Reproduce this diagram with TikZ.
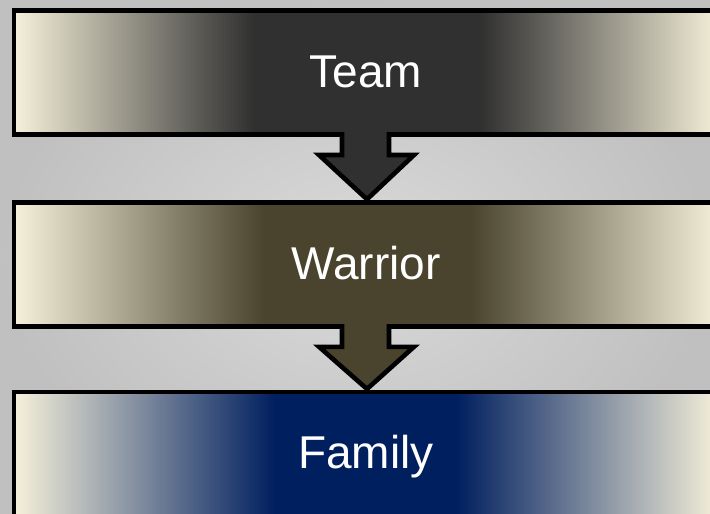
\documentclass[tikz,border=0pt]{standalone}
\usepackage{fontspec}
\setmainfont{Liberation Sans}
\usetikzlibrary{calc}
\definecolor{cream}{RGB}{246,241,218}
\definecolor{dkA}{RGB}{48,48,48}
\definecolor{dkB}{RGB}{74,68,46}
\definecolor{dkC}{RGB}{0,31,95}
\colorlet{mA}{dkA!79!cream}
\colorlet{mB}{dkB!79!cream}
\colorlet{mC}{dkC!79!cream}
\definecolor{bgA}{RGB}{218,218,218}
\definecolor{bgB}{RGB}{192,192,192}
\pgfdeclarehorizontalshading{shadeA}{100bp}{color(0bp)=(cream); color(25bp)=(cream); color(38.2bp)=(mA); color(42bp)=(dkA); color(58bp)=(dkA); color(61.8bp)=(mA); color(75bp)=(cream); color(100bp)=(cream)}
\pgfdeclarehorizontalshading{shadeB}{100bp}{color(0bp)=(cream); color(25bp)=(cream); color(38.9bp)=(mB); color(42.7bp)=(dkB); color(57.3bp)=(dkB); color(61.1bp)=(mB); color(75bp)=(cream); color(100bp)=(cream)}
\pgfdeclarehorizontalshading{shadeC}{100bp}{color(0bp)=(cream); color(25bp)=(cream); color(39.6bp)=(mC); color(43.5bp)=(dkC); color(56.3bp)=(dkC); color(60.2bp)=(mC); color(75bp)=(cream); color(100bp)=(cream)}
\tikzset{
  levelbox/.style={rectangle, draw=black, line width=4.6pt, minimum width=706pt, minimum height=124pt, inner sep=0pt, outer sep=0pt},
  lbl/.style={text=white, font=\fontsize{46}{55}\selectfont, anchor=base, inner sep=0pt},
  arrline/.style={draw=black, line width=4.6pt, line join=miter}
}
\newcommand{\blockdown}[3]{%
  \fill[#3] ($(#1.south)+(-25,-6)$) -- ($(#1.south)+(-25,20.5)$) -- ($(#1.south)+(-48,20.5)$) -- ($(#2.north)+(0,-3)$) -- ($(#1.south)+(47,20.5)$) -- ($(#1.south)+(22,20.5)$) -- ($(#1.south)+(22,-6)$) -- cycle;
  \draw[arrline] ($(#1.south)+(-25,-2.3)$) -- ($(#1.south)+(-25,20.5)$) -- ($(#1.south)+(-48,20.5)$) -- ($(#2.north)+(0,-3)$) -- ($(#1.south)+(47,20.5)$) -- ($(#1.south)+(22,20.5)$) -- ($(#1.south)+(22,-2.3)$);
}
\begin{document}
\begin{tikzpicture}[x=1pt,y=-1pt]
\useasboundingbox (0,0) rectangle (710,514);
\clip (0,0) rectangle (710,514);
\shade[inner color=bgA, outer color=bgB] (0,0) rectangle (710,514);
\node[levelbox, shading=shadeA] (b1) at (367,72.5) {};
\node[levelbox, shading=shadeB] (b2) at (367,264.3) {};
\node[levelbox, shading=shadeC] (b3) at (367,454) {};
\blockdown{b1}{b2}{dkA}
\blockdown{b2}{b3}{dkB}
\node[lbl] (t1) at (366,87) {Team};
\node[lbl] (t2) at (366,279) {Warrior};
\node[lbl] (t3) at (366,468) {Family};
\end{tikzpicture}
\end{document}
